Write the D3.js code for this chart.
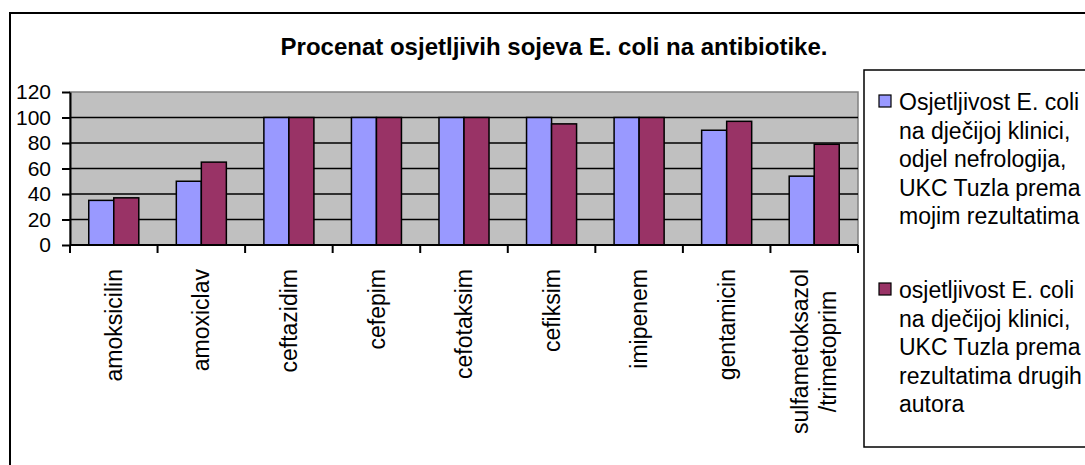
<!DOCTYPE html>
<html>
<head>
<meta charset="utf-8">
<script src="https://cdn.jsdelivr.net/npm/d3@7"></script>
<style>
  body { margin: 0; background: #fff; }
  svg { display: block; font-family: Arial, "Liberation Sans", sans-serif; }
</style>
</head>
<body>
<svg id="chart" width="1085" height="465"></svg>
<script>
// podaci
const categories = ["amoksicilin", "amoxiclav", "ceftazidim", "cefepim", "cefotaksim",
                    "cefiksim", "imipenem", "gentamicin", "sulfametoksazol\n/trimetoprim"];
const mojiRezultati = [35, 50, 100, 100, 100, 100, 100, 90, 54];
const drugiAutori   = [37, 65, 100, 100, 100, 95, 100, 97, 79];
const yTicks = [0, 20, 40, 60, 80, 100, 120];
const seriesNames = [
  "Osjetljivost E. coli\nna dječijoj klinici,\nodjel nefrologija,\nUKC Tuzla prema\nmojim rezultatima",
  "osjetljivost E. coli\nna dječijoj klinici,\nUKC Tuzla prema\nrezultatima drugih\nautora"
];
const colors = ["#9999FF", "#993366"];
const title = "Procenat osjetljivih sojeva E. coli na antibiotike.";

const svg = d3.select("#chart");

// okvir grafikona
svg.append("rect")
   .attr("x", 10).attr("y", 13)
   .attr("width", 1090).attr("height", 470)
   .attr("fill", "none").attr("stroke", "#000").attr("stroke-width", 2);

svg.append("text")
   .attr("x", 554).attr("y", 55)
   .attr("text-anchor", "middle")
   .attr("font-size", "24px").attr("font-weight", "bold")
   .text(title);

const plot = { left: 70, right: 858, top: 92, bottom: 245 };

const x0 = d3.scaleBand()
             .domain(categories)
             .range([plot.left, plot.right]);

const x1 = d3.scaleBand()
             .domain([0, 1])
             .range([0, x0.bandwidth()])
             .paddingOuter(0.75);

const y = d3.scaleLinear()
            .domain([0, 120])
            .range([plot.bottom, plot.top]);

// pozadina
svg.append("rect")
   .attr("x", plot.left).attr("y", plot.top)
   .attr("width", plot.right - plot.left).attr("height", plot.bottom - plot.top)
   .attr("fill", "#C0C0C0")
   .attr("stroke", "#808080").attr("stroke-width", 1.5);

// mreža
svg.selectAll("line.grid")
   .data(yTicks.filter(d => d > 0 && d < 120))
   .enter()
   .append("line")
   .attr("class", "grid")
   .attr("x1", plot.left).attr("x2", plot.right)
   .attr("y1", d => y(d)).attr("y2", d => y(d))
   .attr("stroke", "#000").attr("stroke-width", 1.6);

// stupci
const data = categories.map((c, i) => ({ cat: c, vals: [mojiRezultati[i], drugiAutori[i]] }));

const groups = svg.selectAll("g.grp")
   .data(data)
   .enter()
   .append("g")
   .attr("transform", d => `translate(${x0(d.cat)},0)`);

groups.selectAll("rect")
   .data(d => d.vals.map((v, k) => ({ k, v })))
   .enter()
   .append("rect")
   .attr("x", d => x1(d.k))
   .attr("y", d => y(d.v))
   .attr("width", x1.bandwidth())
   .attr("height", d => y(0) - y(d.v))
   .attr("fill", d => colors[d.k])
   .attr("stroke", "#000").attr("stroke-width", 1.5);

// osa Y
const yAxis = svg.append("g")
   .attr("transform", `translate(${plot.left},0)`)
   .call(d3.axisLeft(y).tickValues(yTicks).tickSize(8).tickPadding(11).tickSizeOuter(0));
yAxis.select(".domain").attr("stroke", "#000").attr("stroke-width", 2);
yAxis.selectAll(".tick line").attr("stroke", "#000").attr("stroke-width", 2);
yAxis.selectAll(".tick text")
     .attr("font-size", "21px").attr("font-family", "Arial, 'Liberation Sans', sans-serif")
     .attr("fill", "#000");

// osa X
const xAxisG = svg.append("g").attr("transform", `translate(0,${plot.bottom})`);
xAxisG.append("line")
   .attr("x1", plot.left).attr("x2", plot.right)
   .attr("stroke", "#000").attr("stroke-width", 2);
const bounds = categories.map(c => x0(c)).concat([plot.right]);
xAxisG.selectAll("line.tick")
   .data(bounds)
   .enter()
   .append("line")
   .attr("class", "tick")
   .attr("x1", d => d).attr("x2", d => d)
   .attr("y1", 0).attr("y2", 8)
   .attr("stroke", "#000").attr("stroke-width", 2);

// oznake kategorija (rotirane)
const labelTop = 269;
const lineH = 28;
categories.forEach(c => {
  const lines = c.split("\n");
  const g = svg.append("g")
     .attr("transform", `translate(${x0(c) + x0.bandwidth() / 2},${labelTop}) rotate(-90)`);
  const texts = lines.map((ln, i) => g.append("text")
     .attr("font-size", "23px")
     .attr("text-anchor", "middle")
     .attr("y", (i - (lines.length - 1) / 2) * lineH)
     .attr("dy", "0.35em")
     .text(ln));
  const maxLen = d3.max(texts, t => t.node().getComputedTextLength());
  texts.forEach(t => t.attr("x", -maxLen / 2));
});

// legenda
svg.append("rect")
   .attr("x", 864).attr("y", 70)
   .attr("width", 240).attr("height", 377)
   .attr("fill", "#fff").attr("stroke", "#000").attr("stroke-width", 1.5);

const legendTop = [110, 298];
seriesNames.forEach((name, k) => {
  svg.append("rect")
     .attr("x", 879).attr("y", legendTop[k] - 15)
     .attr("width", 12).attr("height", 12)
     .attr("fill", colors[k]).attr("stroke", "#000").attr("stroke-width", 1.2);
  name.split("\n").forEach((ln, i) => {
    svg.append("text")
       .attr("x", 899).attr("y", legendTop[k] + i * 28.5)
       .attr("font-size", "23px")
       .text(ln);
  });
});
</script>
</body>
</html>
